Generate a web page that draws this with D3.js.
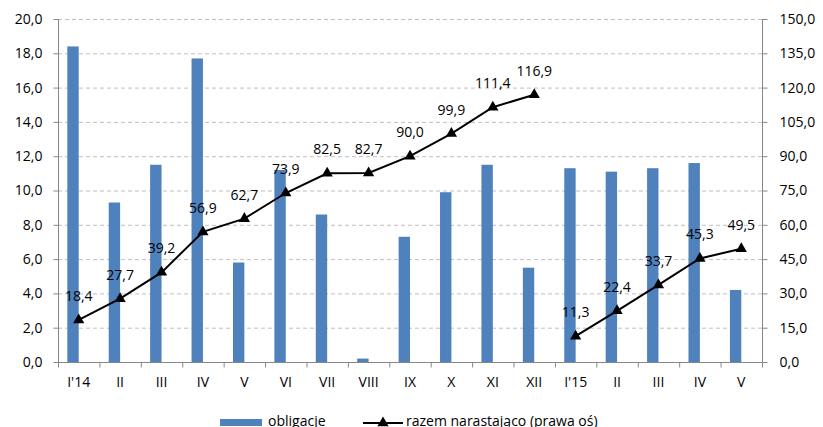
<!DOCTYPE html>
<html>
<head>
<meta charset="utf-8">
<script src="https://cdn.jsdelivr.net/npm/d3@7"></script>
<style>
  html, body { margin: 0; padding: 0; background: #fff; }
  svg { display: block; font-family: "Open Sans", sans-serif; }
</style>
</head>
<body>
<svg id="chart" width="823" height="427"></svg>
<script>
// Monthly bond issuance (left axis) and cumulative total within each year (right axis)
const categories = ["I'14", "II", "III", "IV", "V", "VI", "VII", "VIII", "IX", "X", "XI", "XII",
                    "I'15", "II", "III", "IV", "V"];
const obligacje = [18.4, 9.3, 11.5, 17.7, 5.8, 11.2, 8.6, 0.2, 7.3, 9.9, 11.5, 5.5,
                   11.3, 11.1, 11.3, 11.6, 4.2];
const narastajaco = [18.4, 27.7, 39.2, 56.9, 62.7, 73.9, 82.5, 82.7, 90.0, 99.9, 111.4, 116.9,
                     11.3, 22.4, 33.7, 45.3, 49.5];
const leftTicks = [0, 2, 4, 6, 8, 10, 12, 14, 16, 18, 20];
const rightTicks = [0, 15, 30, 45, 60, 75, 90, 105, 120, 135, 150];
const legendLabels = ["obligacje", "razem narastająco (prawa oś)"];

const plot = { left: 58, right: 762, top: 19, bottom: 362 };
const barColor = "#4f81bd";
const axisColor = "#868686";
const gridColor = "#bfbfbf";
const fmt = v => d3.format(".1f")(v).replace(".", ",");

const svg = d3.select("#chart");

const x = d3.scaleBand()
  .domain(d3.range(categories.length))
  .range([plot.left, plot.right])
  .padding(0);
const yL = d3.scaleLinear().domain([0, 20]).range([plot.bottom, plot.top]);
const yR = d3.scaleLinear().domain([0, 150]).range([plot.bottom, plot.top]);
const cx = i => x(i) + x.bandwidth() / 2;

// Dashed horizontal gridlines
svg.append("g")
  .selectAll("line")
  .data(leftTicks.filter(d => d > 0))
  .join("line")
  .attr("x1", plot.left).attr("x2", plot.right)
  .attr("y1", d => yL(d) + 0.5).attr("y2", d => yL(d) + 0.5)
  .attr("stroke", gridColor)
  .attr("stroke-width", 1)
  .attr("stroke-dasharray", "4,3");

// Bars sit in the left half of each category group
const barW = x.bandwidth() * 0.275;
svg.append("g")
  .selectAll("rect")
  .data(obligacje)
  .join("rect")
  .attr("x", (d, i) => cx(i) - barW)
  .attr("y", d => yL(d))
  .attr("width", barW)
  .attr("height", d => yL(0) - yL(d))
  .attr("fill", barColor);

// Left axis
const axL = svg.append("g")
  .attr("transform", `translate(${plot.left + 0.5},0)`)
  .call(d3.axisLeft(yL).tickValues(leftTicks).tickSize(5).tickPadding(11).tickFormat(fmt));
// Right axis
const axR = svg.append("g")
  .attr("transform", `translate(${plot.right + 0.5},0)`)
  .call(d3.axisRight(yR).tickValues(rightTicks).tickSize(5).tickPadding(12).tickFormat(fmt));
// Category axis: labels at centers, ticks at category boundaries
const axB = svg.append("g")
  .attr("transform", `translate(0,${plot.bottom + 0.5})`)
  .call(d3.axisBottom(x).tickSize(0).tickPadding(15).tickFormat(i => categories[i]));
axB.append("g")
  .selectAll("line")
  .data(d3.range(categories.length + 1))
  .join("line")
  .attr("x1", i => (i < categories.length ? x(i) : plot.right) + 0.5)
  .attr("x2", i => (i < categories.length ? x(i) : plot.right) + 0.5)
  .attr("y1", 0).attr("y2", 5)
  .attr("stroke", axisColor);

[axL, axR, axB].forEach(g => {
  g.select(".domain").attr("stroke", axisColor);
  g.selectAll(".tick line").attr("stroke", axisColor);
  g.selectAll(".tick text")
    .attr("fill", "#000")
    .style("font-family", '"Open Sans", sans-serif')
    .style("font-size", "14px");
});
axL.select(".domain").attr("d", `M0,${plot.top}V${plot.bottom}`);
axR.select(".domain").attr("d", `M0,${plot.top}V${plot.bottom}`);
axB.select(".domain").attr("d", `M${plot.left},0H${plot.right}`);

// Cumulative line: a new run starts at each year's first month
const runs = [];
narastajaco.forEach((v, i) => {
  if (i === 0 || categories[i].includes("'")) runs.push([]);
  runs[runs.length - 1].push(i);
});
const line = d3.line().x(i => cx(i)).y(i => yR(narastajaco[i]));
svg.append("g")
  .selectAll("path")
  .data(runs)
  .join("path")
  .attr("d", line)
  .attr("fill", "none")
  .attr("stroke", "#000")
  .attr("stroke-width", 2);

const tri = d3.symbol(d3.symbolTriangle, 55);
svg.append("g")
  .selectAll("path")
  .data(narastajaco)
  .join("path")
  .attr("d", tri)
  .attr("transform", (d, i) => `translate(${cx(i)},${yR(d)})`)
  .attr("fill", "#000");

// Value labels above the points
svg.append("g")
  .selectAll("text")
  .data(narastajaco)
  .join("text")
  .attr("x", (d, i) => cx(i))
  .attr("y", d => yR(d) - 19)
  .attr("text-anchor", "middle")
  .style("font-size", "14px")
  .attr("fill", "#000")
  .text(fmt);

// Legend
const lg = svg.append("g");
lg.append("rect")
  .attr("x", 220).attr("y", 419).attr("width", 42).attr("height", 7)
  .attr("fill", barColor);
lg.append("text")
  .attr("x", 268).attr("y", 426)
  .style("font-size", "14px")
  .text(legendLabels[0]);
lg.append("line")
  .attr("x1", 363).attr("x2", 403).attr("y1", 423).attr("y2", 423)
  .attr("stroke", "#000").attr("stroke-width", 2);
lg.append("path")
  .attr("d", tri)
  .attr("transform", "translate(383,423)");
lg.append("text")
  .attr("x", 406).attr("y", 426)
  .style("font-size", "14px")
  .text(legendLabels[1]);
</script>
</body>
</html>
